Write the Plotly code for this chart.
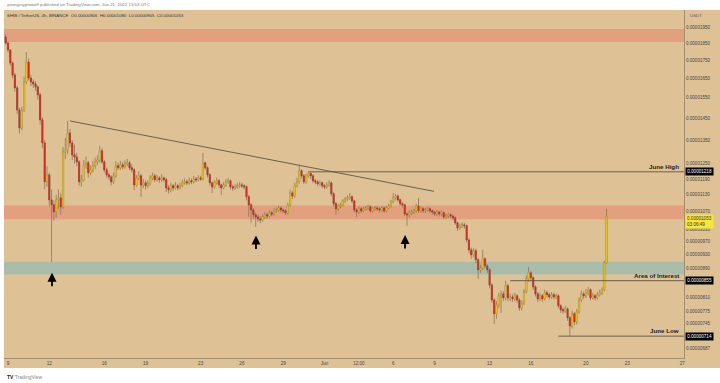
import math
import pandas as pd
import plotly.graph_objects as go

UNIT = 1e-8  # prices below are in units of 0.00000001 USDT

first_open = 1888
closes = [
    1851, 1810, 1735, 1668, 1600, 1489, 1405, 1489, 1631, 1740,
    1652, 1631, 1621, 1605, 1564, 1442, 1338, 1179, 1206, 1112,
    1094, 1069, 1112, 1119, 1087, 1299, 1308, 1382, 1338, 1287,
    1278, 1258, 1179, 1187, 1246, 1254, 1214, 1226, 1242, 1258,
    1266, 1304, 1258, 1226, 1206, 1198, 1179, 1202, 1242, 1234,
    1246, 1238, 1250, 1254, 1234, 1226, 1167, 1194, 1202, 1167,
    1175, 1164, 1171, 1194, 1202, 1187, 1194, 1187, 1194, 1187,
    1156, 1149, 1164, 1156, 1164, 1156, 1164, 1175, 1179, 1175,
    1183, 1179, 1190, 1187, 1194, 1190, 1254, 1234, 1206, 1175,
    1160, 1175, 1183, 1167, 1156, 1167, 1179, 1183, 1160, 1156,
    1160, 1164, 1167, 1164, 1160, 1123, 1094, 1076, 1059, 1052,
    1045, 1042, 1052, 1059, 1055, 1066, 1062, 1073, 1076, 1083,
    1076, 1073, 1066, 1094, 1137, 1126, 1164, 1179, 1222, 1202,
    1179, 1202, 1212, 1202, 1183, 1179, 1171, 1175, 1164, 1160,
    1167, 1175, 1134, 1098, 1080, 1090, 1094, 1108, 1115, 1119,
    1123, 1108, 1076, 1069, 1080, 1073, 1080, 1083, 1087, 1073,
    1080, 1083, 1080, 1076, 1083, 1073, 1083, 1090, 1105, 1119,
    1126, 1112, 1098, 1094, 1062, 1059, 1066, 1069, 1073, 1090,
    1073, 1080, 1073, 1076, 1080, 1073, 1069, 1062, 1069, 1062,
    1066, 1052, 1055, 1059, 1055, 1049, 1032, 1015, 1022, 1025,
    1022, 976, 945, 930, 942, 915, 886, 891, 918, 897,
    886, 843, 803, 768, 790, 814, 819, 809, 841, 809,
    811, 806, 814, 803, 783, 795, 825, 860, 877, 863,
    838, 819, 806, 814, 806, 822, 817, 811, 817, 811,
    814, 788, 778, 775, 780, 758, 738, 768, 748, 773,
    803, 819, 814, 822, 830, 809, 814, 809, 817, 822,
    830, 906, 1053,
]
highs = [
    1905, 1860, 1815, 1745, 1680, 1610, 1500, 1505, 1660, 1798,
    1760, 1670, 1645, 1635, 1615, 1575, 1455, 1350, 1240, 1215,
    1150, 1110, 1130, 1150, 1135, 1320, 1360, 1437, 1400, 1350,
    1330, 1295, 1265, 1205, 1265, 1280, 1262, 1245, 1262, 1275,
    1285, 1325, 1315, 1265, 1235, 1215, 1205, 1215, 1260, 1255,
    1262, 1258, 1265, 1270, 1262, 1248, 1232, 1205, 1220, 1210,
    1190, 1185, 1185, 1205, 1215, 1210, 1205, 1200, 1208, 1200,
    1195, 1165, 1175, 1170, 1178, 1170, 1175, 1188, 1192, 1188,
    1195, 1192, 1202, 1198, 1205, 1202, 1295, 1258, 1240, 1212,
    1180, 1185, 1195, 1190, 1172, 1178, 1190, 1194, 1188, 1168,
    1170, 1175, 1178, 1175, 1170, 1165, 1130, 1100, 1082, 1068,
    1060, 1055, 1062, 1068, 1066, 1075, 1072, 1082, 1085, 1092,
    1088, 1082, 1078, 1102, 1150, 1145, 1175, 1195, 1246, 1228,
    1208, 1210, 1218, 1214, 1208, 1190, 1185, 1184, 1180, 1170,
    1178, 1185, 1180, 1140, 1105, 1098, 1102, 1115, 1122, 1128,
    1137, 1128, 1112, 1082, 1088, 1086, 1087, 1090, 1094, 1092,
    1086, 1090, 1089, 1085, 1090, 1088, 1090, 1098, 1112, 1137,
    1134, 1130, 1116, 1104, 1098, 1068, 1074, 1076, 1080, 1098,
    1119, 1087, 1086, 1083, 1087, 1085, 1078, 1074, 1076, 1073,
    1074, 1070, 1062, 1066, 1064, 1060, 1054, 1036, 1030, 1034,
    1032, 1026, 982, 952, 950, 948, 920, 900, 945, 922,
    902, 890, 848, 808, 800, 822, 828, 826, 855, 846,
    820, 818, 822, 818, 808, 802, 832, 870, 894, 882,
    868, 842, 824, 822, 818, 830, 828, 822, 824, 822,
    820, 818, 792, 784, 788, 784, 762, 775, 772, 780,
    810, 828, 825, 832, 838, 834, 822, 818, 824, 830,
    836, 912, 1080,
]
lows = [
    1840, 1795, 1720, 1650, 1580, 1470, 1380, 1395, 1480, 1620,
    1640, 1610, 1600, 1585, 1540, 1420, 1315, 1150, 1160, 1090,
    909, 1040, 1050, 1080, 1060, 1080, 1270, 1290, 1320, 1265,
    1250, 1240, 1165, 1160, 1180, 1230, 1195, 1205, 1215, 1230,
    1245, 1255, 1250, 1215, 1195, 1185, 1165, 1170, 1195, 1225,
    1226, 1228, 1230, 1240, 1225, 1215, 1148, 1160, 1185, 1123,
    1155, 1150, 1155, 1165, 1185, 1178, 1180, 1175, 1180, 1178,
    1140, 1135, 1140, 1145, 1150, 1148, 1150, 1158, 1168, 1165,
    1168, 1170, 1172, 1178, 1180, 1182, 1185, 1225, 1195, 1165,
    1137, 1152, 1168, 1155, 1130, 1150, 1160, 1172, 1150, 1145,
    1148, 1152, 1155, 1155, 1150, 1110, 1052, 1032, 1045, 1018,
    1035, 1030, 1035, 1045, 1046, 1050, 1054, 1056, 1066, 1070,
    1068, 1064, 1058, 1060, 1088, 1115, 1120, 1158, 1172, 1192,
    1170, 1172, 1195, 1190, 1175, 1170, 1162, 1165, 1155, 1150,
    1152, 1160, 1125, 1088, 1059, 1072, 1082, 1088, 1100, 1108,
    1112, 1100, 1068, 1052, 1062, 1066, 1068, 1074, 1076, 1066,
    1068, 1074, 1072, 1068, 1070, 1066, 1068, 1078, 1085, 1100,
    1110, 1104, 1090, 1085, 1055, 1022, 1050, 1058, 1062, 1066,
    1066, 1066, 1066, 1066, 1070, 1065, 1060, 1055, 1055, 1054,
    1056, 1045, 1046, 1048, 1047, 1040, 1025, 1005, 1008, 1014,
    1012, 968, 935, 918, 922, 905, 860, 876, 885, 890,
    876, 834, 795, 743, 755, 782, 770, 800, 802, 800,
    800, 798, 800, 795, 775, 776, 790, 820, 852, 855,
    830, 812, 798, 800, 798, 802, 810, 804, 806, 804,
    805, 782, 770, 768, 770, 750, 714, 732, 740, 742,
    768, 798, 806, 808, 815, 802, 804, 802, 804, 812,
    816, 826, 905,
]
opens = [first_open] + closes[:-1]
times = pd.date_range("2022-05-08 20:00", periods=len(closes), freq="4h")

# zones and levels (same price units)
zone_top = (1857, 1937)
zone_mid = (1044, 1092)
zone_teal = (872, 909)
june_high = 1218
area_interest = 855
june_low = 714
last_price = 1053
trend_times = ["2022-05-13 12:00", "2022-06-08 23:00"]
trend_prices = [1437, 1143]
june_high_start = "2022-05-30 20:00"
area_start = "2022-06-14 12:00"
june_low_start = "2022-06-18 00:00"

y_tick_vals = [1950, 1850, 1750, 1650, 1550, 1450, 1350, 1250, 1190, 1130,
               1070, 1010, 970, 930, 890, 810, 775, 745, 687]
x_tick_vals = ["2022-05-09", "2022-05-12", "2022-05-16", "2022-05-19", "2022-05-23",
               "2022-05-26", "2022-05-29", "2022-06-01", "2022-06-03 12:00", "2022-06-06",
               "2022-06-09", "2022-06-13", "2022-06-16", "2022-06-20", "2022-06-23",
               "2022-06-27"]
x_tick_text = ["9", "12", "16", "19", "23", "26", "29", "Jun", "12:00", "6",
               "9", "13", "16", "20", "23", "27"]

arrow_times = ["2022-05-12 04:45", "2022-05-27 00:30", "2022-06-06 20:30"]
arrow_prices = [877, 990, 992]

X_START, X_END = "2022-05-08 17:01", "2022-06-27 03:04"
Y_MIN, Y_MAX = 665.0, 2060.8

BG = "#dfc196"
RED_ZONE = "#e3a07f"
TEAL_ZONE = "#aabdab"
LINE = "#5e5445"
WICK = "#7d6f58"
UP, DOWN = "#f6d522", "#e3302a"
FONT = "Liberation Sans, Arial, sans-serif"

def p(v):
    return v * UNIT

def lg(v):
    return math.log10(v * UNIT)

fig = go.Figure()

# wicks (full range, grey)
fig.add_trace(go.Candlestick(
    x=times,
    open=[p(v) for v in opens], high=[p(v) for v in highs],
    low=[p(v) for v in lows], close=[p(v) for v in closes],
    increasing=dict(fillcolor=UP, line=dict(color=WICK, width=0.7)),
    decreasing=dict(fillcolor=DOWN, line=dict(color=WICK, width=0.7)),
    whiskerwidth=0, showlegend=False, hoverinfo="skip",
))
# bodies (open..close only, coloured)
body_hi = [max(o, c) for o, c in zip(opens, closes)]
body_lo = [min(o, c) for o, c in zip(opens, closes)]
fig.add_trace(go.Candlestick(
    x=times,
    open=[p(v) for v in opens], high=[p(v) for v in body_hi],
    low=[p(v) for v in body_lo], close=[p(v) for v in closes],
    increasing=dict(fillcolor=UP, line=dict(color="#c9a51c", width=0.4)),
    decreasing=dict(fillcolor=DOWN, line=dict(color="#b52a22", width=0.4)),
    whiskerwidth=0, showlegend=False, hoverinfo="skip",
))

# trend line and horizontal levels
fig.add_trace(go.Scatter(x=trend_times, y=[p(v) for v in trend_prices], mode="lines",
                         line=dict(color=LINE, width=0.9), showlegend=False, hoverinfo="skip"))
for start, lvl in [(june_high_start, june_high), (area_start, area_interest), (june_low_start, june_low)]:
    fig.add_trace(go.Scatter(x=[start, X_END], y=[p(lvl), p(lvl)], mode="lines",
                             line=dict(color=LINE, width=0.9), showlegend=False, hoverinfo="skip"))

shapes = [
    dict(type="rect", xref="paper", yref="paper", x0=0, x1=716 / 680, y0=-10 / 348, y1=1,
         fillcolor=BG, line=dict(width=0), layer="below"),
]
for (lo, hi), col in [(zone_top, RED_ZONE), (zone_mid, RED_ZONE), (zone_teal, TEAL_ZONE)]:
    shapes.append(dict(type="rect", xref="paper", yref="y", x0=0, x1=1, y0=p(lo), y1=p(hi),
                       fillcolor=col, line=dict(width=0), layer="below"))

annotations = [
    dict(text="youngcryptowolf published on TradingView.com, Jun 21, 2022 13:53 UTC",
         xref="paper", yref="paper", x=1 / 680, y=(358 - 5) / 348, xanchor="left", yanchor="middle",
         showarrow=False, font=dict(size=4.4, color="#7a7a7a", family=FONT)),
    dict(text="SHIB / TetherUS, 4h, BINANCE  O0.00000906  H0.00001080  L0.00000905  C0.00001053",
         xref="paper", yref="paper", x=1 / 680, y=(358 - 15) / 348, xanchor="left", yanchor="middle",
         showarrow=False, font=dict(size=4.4, color="#333333", family=FONT)),
    dict(text="USDT", xref="paper", yref="paper", x=(688 - 4) / 680, y=(358 - 15) / 348,
         xanchor="left", yanchor="middle", showarrow=False,
         font=dict(size=4.4, color="#555555", family=FONT)),
    dict(text="<b>TV</b> <span style='color:#888'>TradingView</span>", xref="paper", yref="paper",
         x=1 / 680, y=(358 - 377) / 348, xanchor="left", yanchor="middle", showarrow=False,
         font=dict(size=5, color="#222222", family=FONT)),
]
for txt, lvl in [("June High", june_high), ("Area of Interest", area_interest), ("June Low", june_low)]:
    annotations.append(dict(text=f"<b>{txt}</b>", xref="paper", yref="y", x=0.996, y=lg(lvl),
                            xanchor="right", yanchor="bottom", yshift=0, showarrow=False,
                            font=dict(size=6.2, color="#222222", family=FONT)))
for lvl in [june_high, area_interest, june_low]:
    annotations.append(dict(text=f"{p(lvl):.8f}", xref="paper", yref="y", x=1, y=lg(lvl),
                            xanchor="left", yanchor="middle", xshift=1, showarrow=False,
                            bgcolor="#000000", borderpad=1.2,
                            font=dict(size=4.6, color="#ffffff", family=FONT)))
annotations.append(dict(text=f"{p(last_price):.8f}<br>03:06:49", xref="paper", yref="y", x=1,
                        y=lg(last_price), xanchor="left", yanchor="top", yshift=3, xshift=1,
                        showarrow=False, bgcolor="#f6e63a", borderpad=1.0, align="left",
                        font=dict(size=4.6, color="#333333", family=FONT)))
for t, v in zip(arrow_times, arrow_prices):
    annotations.append(dict(text="", x=t, y=lg(v), xref="x", yref="y", showarrow=True,
                            ax=0, ay=15, arrowhead=2, arrowsize=1, arrowwidth=1.8,
                            arrowcolor="#000000"))

fig.update_layout(
    width=720, height=383,
    margin=dict(l=4, r=36, t=10, b=25, autoexpand=False),
    paper_bgcolor="#ffffff", plot_bgcolor=BG,
    shapes=shapes, annotations=annotations,
    font=dict(family=FONT),
    xaxis=dict(type="date", range=[X_START, X_END], tickvals=x_tick_vals, ticktext=x_tick_text,
               showgrid=False, zeroline=False, showline=True, linecolor="#a38f6f", linewidth=1,
               ticks="", tickfont=dict(size=4.6, color="#444444"), rangeslider=dict(visible=False),
               fixedrange=True, automargin=False),
    yaxis=dict(type="log", side="right", range=[math.log10(Y_MIN * UNIT), math.log10(Y_MAX * UNIT)],
               tickvals=[p(v) for v in y_tick_vals], ticktext=[f"{p(v):.8f}" for v in y_tick_vals],
               showgrid=False, zeroline=False, showline=True, linecolor="#a38f6f", linewidth=1,
               ticks="", tickfont=dict(size=4.6, color="#444444"), automargin=False),
    hovermode=False,
)

fig.write_html("out.html", config={"displayModeBar": False, "staticPlot": True},
               post_script="document.body.style.margin='0px';document.body.style.overflow='hidden';")
